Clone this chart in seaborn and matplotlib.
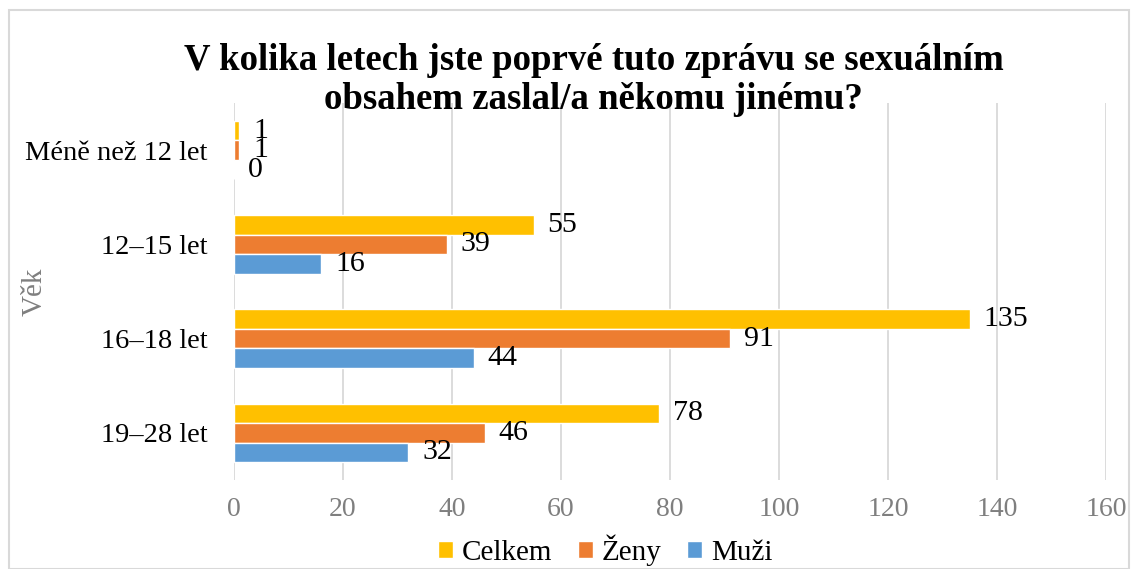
import matplotlib
matplotlib.use("Agg")
import matplotlib.pyplot as plt
import seaborn as sns
import pandas as pd
from matplotlib.patches import Rectangle, Patch

# data
categories = ['Méně než 12 let', '12–15 let', '16–18 let', '19–28 let']
series = ['Celkem', 'Ženy', 'Muži']
celkem = [1, 55, 135, 78]
zeny = [1, 39, 91, 46]
muzi = [0, 16, 44, 32]
colors = ['#FFC000', '#ED7D31', '#5B9BD5']
xticks = [0, 20, 40, 60, 80, 100, 120, 140, 160]

df = pd.DataFrame({
    'Věk': categories * 3,
    'Skupina': [s for s in series for _ in categories],
    'Počet': celkem + zeny + muzi,
})

sns.set_style('white')
plt.rcParams['font.family'] = ['Liberation Serif', 'DejaVu Serif']
plt.rcParams['text.color'] = 'black'

fig = plt.figure(figsize=(11.31, 5.69), dpi=100)
ax = fig.add_axes([0.2069, 0.1564, 0.7711, 0.6626])

sns.barplot(data=df, x='Počet', y='Věk', hue='Skupina', hue_order=series,
            palette=colors, orient='h', width=0.62, saturation=1,
            legend=False, ax=ax)

for cont in ax.containers:
    ax.bar_label(cont, padding=10, fontsize=21.5, color='black')

ax.set_xlim(0, 160)
ax.set_xticks(xticks)
ax.grid(axis='x', color='#D9D9D9', linewidth=1.3)
ax.set_axisbelow(True)
for s in ax.spines.values():
    s.set_visible(False)
ax.tick_params(axis='x', colors='#7F7F7F', labelsize=20, length=0, pad=12)
ax.tick_params(axis='y', colors='black', labelsize=20.5, length=0, pad=19)
ax.set_xlabel('')
ax.set_ylabel('Věk', fontsize=21, color='#7F7F7F')
ax.yaxis.set_label_coords(-0.214, 0.5)

fig.text(0.525, 0.86, 'V kolika letech jste poprvé tuto zprávu se sexuálním\nobsahem zaslal/a někomu jinému?',
         ha='center', va='center', fontsize=26.5, fontweight='bold', linespacing=1.15,
         color='black')

handles = [Patch(facecolor=c, label=s) for c, s in zip(colors, series)]
fig.legend(handles=handles, loc='center', bbox_to_anchor=(0.535, 0.033), ncol=3,
           frameon=False, fontsize=21, handlelength=0.5, handleheight=0.5,
           handletextpad=0.3, columnspacing=0.9, labelcolor='black')

fig.patches.append(Rectangle((0.008, 0.0), 0.99, 0.982, transform=fig.transFigure,
                             fill=False, edgecolor='#D9D9D9', linewidth=1.5))

fig.savefig('out.png', dpi=100)
